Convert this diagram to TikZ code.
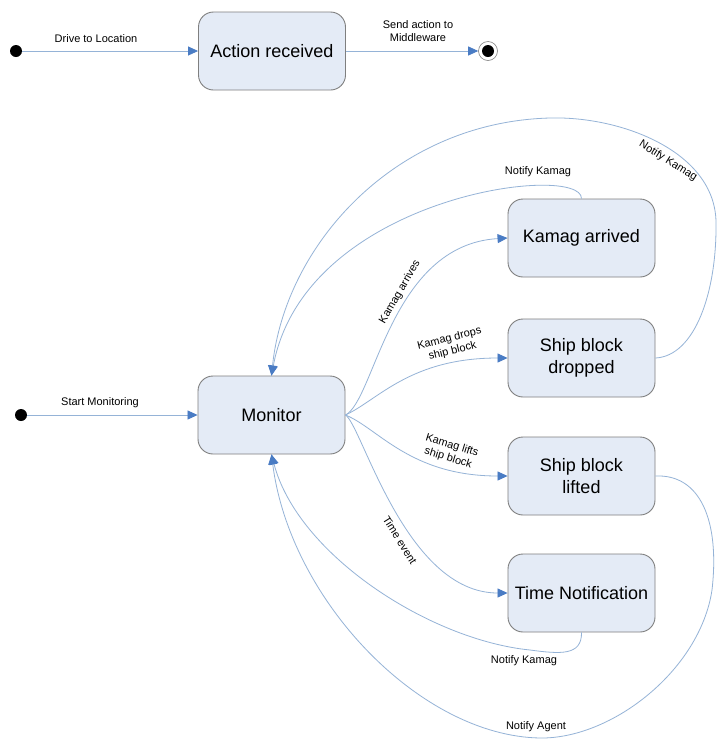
\documentclass[tikz,border=0pt]{standalone}
\usepackage{fontspec}
\setmainfont{Liberation Sans}
\usetikzlibrary{arrows.meta}

\definecolor{boxfill}{HTML}{E4EBF6}
\definecolor{boxline}{HTML}{7F7F7F}
\definecolor{wire}{HTML}{95B3D7}
\definecolor{tipblue}{HTML}{4A7CC4}

\tikzset{
  state/.style={draw=boxline, fill=boxfill, rounded corners=15pt,
    minimum width=147pt, minimum height=78pt, inner sep=0pt,
    align=center, font=\fontsize{18}{22}\selectfont, line width=0.9pt},
  trans/.style={draw=wire, line width=0.8pt,
    -{Triangle[length=10pt,width=9pt,color=tipblue]}},
  lbl/.style={font=\fontsize{11}{13}\selectfont, align=center, inner sep=1pt},
  startdot/.style={circle, fill=black, minimum size=12pt, inner sep=0pt},
  enddot/.style={circle, draw=boxline, fill=white, line width=0.6pt,
    minimum size=19pt, inner sep=0pt,
    path picture={\fill[black] (path picture bounding box.center) circle (6pt);}},
}

\begin{document}
\begin{tikzpicture}[x=1pt, y=-1pt]
  \useasboundingbox[fill=white] (0,0) rectangle (718,740);

  % upper chart
  \node[startdot] (init1) at (16,51) {};
  \node[state] (action) at (272,51) {Action received};
  \node[enddot] (final) at (488,51) {};

  \draw[trans] (init1) -- (action);
  \draw[trans] (action) -- (final);
  \node[lbl] (ldrive) at (96,39) {Drive to Location};
  \node[lbl] (lsend) at (418,31) {Send action to\\Middleware};

  % monitoring chart
  \node[startdot] (init2) at (21,415) {};
  \node[state] (monitor) at (271.5,415) {Monitor};
  \node[state] (arrived) at (581.5,238) {Kamag arrived};
  \node[state] (dropped) at (581.5,358) {Ship block\\dropped};
  \node[state] (lifted) at (581.5,476) {Ship block\\lifted};
  \node[state] (timenote) at (581.5,593) {Time Notification};

  \draw[trans] (init2) -- (monitor);
  \node[lbl] (lstart) at (100,403) {Start Monitoring};

  % transitions leaving Monitor
  \draw[trans] (monitor.east) .. controls (375,400) and (390,245) .. (arrived.west);
  \draw[trans] (monitor.east) .. controls (378,400) and (410,358) .. (dropped.west);
  \draw[trans] (monitor.east) .. controls (378,428) and (410,476) .. (lifted.west);
  \draw[trans] (monitor.east) .. controls (362,425) and (405,593) .. (timenote.west);

  \node[lbl, rotate=60] (larrives) at (400,292) {Kamag arrives};
  \node[lbl, rotate=14] (ldrops) at (451,345) {Kamag drops\\ship block};
  \node[lbl, rotate=-17] (llifts) at (450,452) {Kamag lifts\\ship block};
  \node[lbl, rotate=-58] (ltime) at (400,540) {Time event};

  % transitions back to Monitor
  \draw[trans] (arrived.north) .. controls (582,162) and (305,195) .. (monitor.north);
  \node[lbl] (lnotifya) at (538,172) {Notify Kamag};

  \draw[trans] (dropped.east) .. controls (695,356) and (717,292) .. (716,222)
    .. controls (715,152) and (622,116) .. (550,118)
    .. controls (395,122) and (285,245) .. (monitor.north);
  \node[lbl, rotate=-32] (lnotifyb) at (668,161) {Notify Kamag};

  \draw[trans] (timenote.south) .. controls (582,656) and (560,654) .. (530,650)
    .. controls (430,640) and (298,555) .. (monitor.south);
  \node[lbl] (lnotifyc) at (524,661) {Notify Kamag};

  \draw[trans] (lifted.east) .. controls (700,474) and (720,520) .. (712,590)
    .. controls (700,670) and (612,739) .. (540,738)
    .. controls (420,736) and (290,600) .. (monitor.south);
  \node[lbl] (lagent) at (536,727) {Notify Agent};
\end{tikzpicture}
\end{document}
